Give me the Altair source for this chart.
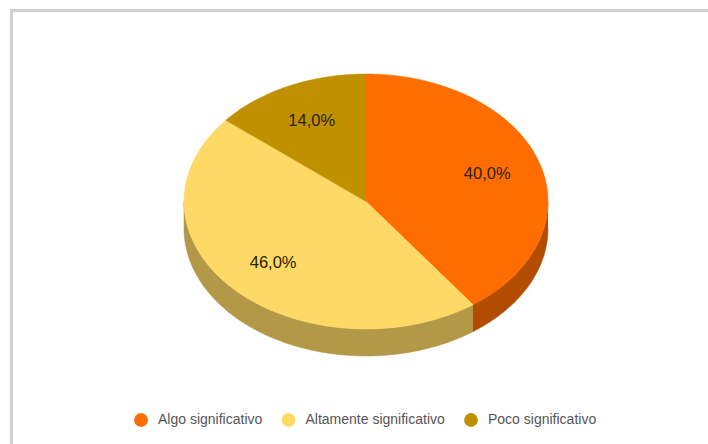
import math
import altair as alt
import pandas as pd

categories = ["Algo significativo", "Altamente significativo", "Poco significativo"]
shares = [40.0, 46.0, 14.0]
top_colors = ["#ff6d01", "#ffd966", "#bf9000"]
wall_colors = ["#b24c00", "#b29847", "#866500"]
wall_depth = 0.212  # thickness of the disc, in units of the vertical radius

# Outer ellipse points run clockwise from twelve o'clock; a = angle in degrees.
def wedge(name, start, end):
    steps = max(2, int(end - start))
    rows = [{"name": name, "i": 0, "x": 0.0, "y": 0.0}]
    for k in range(steps + 1):
        a = math.radians(start + (end - start) * k / steps)
        rows.append({"name": name, "i": k + 1, "x": math.sin(a), "y": math.cos(a)})
    return rows

def wall(name, start, end):
    # Only the front half of the rim (90 to 270 degrees) is visible.
    start, end = max(start, 90), min(end, 270)
    if end <= start:
        return []
    steps = int(end - start)
    angles = [math.radians(start + (end - start) * k / steps) for k in range(steps + 1)]
    rows = [{"name": name, "i": i, "x": math.sin(a), "y": math.cos(a)} for i, a in enumerate(angles)]
    rows += [
        {"name": name, "i": len(angles) + i, "x": math.sin(a), "y": math.cos(a) - wall_depth}
        for i, a in enumerate(reversed(angles))
    ]
    return rows

top_rows, wall_rows, label_rows = [], [], []
cumulative = 0.0
for name, share in zip(categories, shares):
    start = cumulative * 3.6
    end = (cumulative + share) * 3.6
    top_rows += wedge(name, start, end)
    wall_rows += wall(name, start, end)
    mid = math.radians((start + end) / 2)
    label_rows.append({
        "name": name,
        "label": f"{share:.1f}%".replace(".", ","),
        "x": 0.70 * math.sin(mid),
        "y": 0.70 * math.cos(mid),
    })
    cumulative += share

# Plot-area pixels: disc centre (366, 201.5), radii 182 by 127.5.
x_scale = alt.Scale(domain=[-366 / 182, (708 - 366) / 182], range=[0, 708], nice=False, zero=False)
y_scale = alt.Scale(domain=[-(444 - 201.5) / 127.5, 201.5 / 127.5], range=[444, 0], nice=False, zero=False)
x_enc = alt.X("x:Q", scale=x_scale, axis=None)
y_enc = alt.Y("y:Q", scale=y_scale, axis=None)

color_scale = alt.Scale(domain=categories, range=top_colors)
legend = alt.Legend(
    title=None, orient="none", legendX=134, legendY=413, direction="horizontal", columns=3,
    symbolType="circle", symbolSize=190, symbolStrokeWidth=0, labelFont="Liberation Sans",
    labelFontSize=14, labelColor="#555555", columnPadding=18.5, labelOffset=10,
)

walls = alt.Chart(pd.DataFrame(wall_rows)).mark_line(strokeWidth=0.5, interpolate="linear").encode(
    x=x_enc, y=y_enc, order="i:Q",
    detail="name:N",
    stroke=alt.Stroke("name:N", scale=alt.Scale(domain=categories, range=wall_colors), legend=None),
    fill=alt.Fill("name:N", scale=alt.Scale(domain=categories, range=wall_colors), legend=None),
)

tops = alt.Chart(pd.DataFrame(top_rows)).mark_line(strokeWidth=0.5, interpolate="linear").encode(
    x=x_enc, y=y_enc, order="i:Q",
    detail="name:N",
    stroke=alt.Stroke("name:N", scale=color_scale, legend=None),
    fill=alt.Fill("name:N", scale=color_scale, legend=legend),
)

labels = alt.Chart(pd.DataFrame(label_rows)).mark_text(
    font="Liberation Sans", fontSize=16.5, color="#2b2200"
).encode(x=x_enc, y=y_enc, text="label:N")

frame_top = alt.Chart(pd.DataFrame({"k": [0]})).mark_rule(color="#d0d0d0", strokeWidth=3).encode(
    x=alt.value(10), x2=alt.value(708), y=alt.value(10.5)
)
frame_left = alt.Chart(pd.DataFrame({"k": [0]})).mark_rule(color="#d0d0d0", strokeWidth=3).encode(
    x=alt.value(11.5), y=alt.value(9), y2=alt.value(444)
)

chart = (
    alt.layer(frame_top, frame_left, walls, tops, labels)
    .resolve_scale(fill="independent", stroke="independent")
    .properties(width=708, height=444, padding=0, autosize=alt.AutoSizeParams(type="none"),
                background="white")
    .configure_view(stroke=None)
)

chart.save("out.html", embed_options={"renderer": "svg", "actions": False})
